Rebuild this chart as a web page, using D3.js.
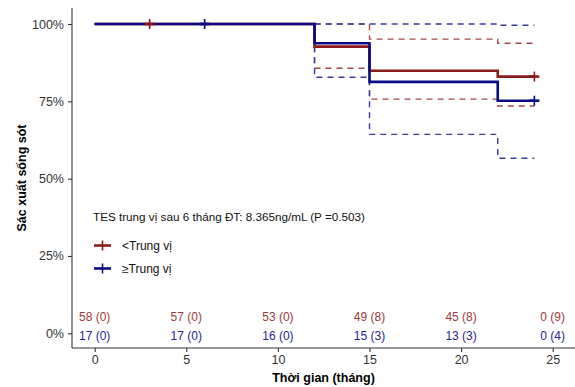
<!DOCTYPE html>
<html>
<head>
<meta charset="utf-8">
<script src="https://cdn.jsdelivr.net/npm/d3@7"></script>
<style>
  body { margin: 0; background: #fff; }
  text { font-family: "Liberation Sans", Arial, sans-serif; }
</style>
</head>
<body>
<div id="chart"></div>
<script>
// Kaplan-Meier steps (time in months, survival in %)
const kmTimes = [0, 12, 15, 22, 24];
const redSurv = [100, 92.7, 84.9, 83.0, 83.0];
const redUpper = [100, 100, 95.1, 93.8, 93.8];
const redLower = [100, 85.7, 75.7, 73.5, 73.5];
const blueSurv = [100, 93.8, 81.3, 75.2, 75.2];
const blueUpper = [100, 100, 100, 99.6, 99.6];
const blueLower = [100, 82.8, 64.3, 56.6, 56.6];

const redCensor = [3, 24];
const blueCensor = [6, 24];

// risk table
const riskTimes = [0, 5, 10, 15, 20, 25];
const redAtRisk = [58, 57, 53, 49, 45, 0];
const redCens = [0, 0, 0, 8, 8, 9];
const blueAtRisk = [17, 17, 16, 15, 13, 0];
const blueCens = [0, 0, 0, 3, 3, 4];

const xTicks = [0, 5, 10, 15, 20, 25];
const yTicks = [0, 25, 50, 75, 100];

const groups = ["<Trung vị", "≥Trung vị"];
const legendTitle = "TES trung vị sau 6 tháng ĐT: 8.365ng/mL (P =0.503)";

const width = 575, height = 387;
const pLeft = 72, pRight = 575, pTop = 8, pBottom = 348;

const svg = d3.select("#chart")
    .append("svg")
    .attr("width", width)
    .attr("height", height);

const x = d3.scaleLinear()
    .domain([0, 25])
    .range([94.7, 552.7]);

const y = d3.scaleLinear()
    .domain([0, 100])
    .range([333.3, 24]);

const red = "#8B1a1a", blue = "#0a0a85";
const redDash = "#a04a4a", blueDash = "#3a3a9c";

const stepLine = d3.line()
    .curve(d3.curveStepAfter)
    .x(d => x(d[0]))
    .y(d => y(d[1]));

const pairs = vals => kmTimes.map((t, i) => [t, vals[i]]);

// confidence bands (dashed)
[[redUpper, redDash], [redLower, redDash], [blueUpper, blueDash], [blueLower, blueDash]].forEach(([vals, col]) => {
    svg.append("path")
        .datum(pairs(vals))
        .attr("fill", "none")
        .attr("stroke", col)
        .attr("stroke-width", 1.4)
        .attr("stroke-dasharray", "6,5")
        .attr("d", stepLine);
});

// survival curves
[[redSurv, red], [blueSurv, blue]].forEach(([vals, col]) => {
    svg.append("path")
        .datum(pairs(vals))
        .attr("fill", "none")
        .attr("stroke", col)
        .attr("stroke-width", 2.6)
        .attr("d", stepLine);
});

// censor marks
const survAt = (vals, t) => {
    let v = vals[0];
    kmTimes.forEach((k, i) => { if (k <= t) v = vals[i]; });
    return v;
};
[[redCensor, redSurv, red], [blueCensor, blueSurv, blue]].forEach(([cs, vals, col]) => {
    cs.forEach(t => {
        const cx = x(t), cy = y(survAt(vals, t));
        svg.append("line")
            .attr("x1", cx).attr("x2", cx)
            .attr("y1", cy - 5).attr("y2", cy + 5)
            .attr("stroke", col).attr("stroke-width", 1.6);
        svg.append("line")
            .attr("x1", cx - 5).attr("x2", cx + 5)
            .attr("y1", cy).attr("y2", cy)
            .attr("stroke", col).attr("stroke-width", 2.6);
    });
});

// risk table text
const riskRows = [
    [redAtRisk, redCens, "#a03a3a", y(0) - 17],
    [blueAtRisk, blueCens, "#26268f", y(0) + 2]
];
riskRows.forEach(([nr, nc, col, ty]) => {
    svg.append("g")
        .selectAll("text")
        .data(riskTimes)
        .join("text")
        .attr("x", d => x(d))
        .attr("y", ty)
        .attr("dy", "0.35em")
        .attr("text-anchor", "middle")
        .attr("font-size", 12)
        .attr("fill", col)
        .text((d, i) => `${nr[i]} (${nc[i]})`);
});

// axes
const axisCol = "#333";
svg.append("line")
    .attr("x1", pLeft).attr("x2", pLeft)
    .attr("y1", pTop).attr("y2", pBottom)
    .attr("stroke", axisCol).attr("stroke-width", 1.1);
svg.append("line")
    .attr("x1", pLeft).attr("x2", pRight)
    .attr("y1", pBottom).attr("y2", pBottom)
    .attr("stroke", axisCol).attr("stroke-width", 1.1);

const xAxis = svg.append("g")
    .attr("transform", `translate(0,${pBottom})`)
    .call(d3.axisBottom(x).tickValues(xTicks).tickSize(4).tickPadding(3));
xAxis.select(".domain").remove();
xAxis.selectAll("line").attr("stroke", axisCol).attr("stroke-width", 1.1);
xAxis.selectAll("text")
    .attr("font-size", 12.5)
    .attr("fill", "#333")
    .style("font-family", "Liberation Sans, Arial, sans-serif");

const yAxis = svg.append("g")
    .attr("transform", `translate(${pLeft},0)`)
    .call(d3.axisLeft(y).tickValues(yTicks).tickFormat(d => d + "%").tickSize(4).tickPadding(4));
yAxis.select(".domain").remove();
yAxis.selectAll("line").attr("stroke", axisCol).attr("stroke-width", 1.1);
yAxis.selectAll("text")
    .attr("font-size", 12.5)
    .attr("fill", "#333")
    .style("font-family", "Liberation Sans, Arial, sans-serif");

// axis titles
svg.append("text")
    .attr("x", (pLeft + pRight) / 2)
    .attr("y", 382)
    .attr("text-anchor", "middle")
    .attr("font-size", 12.5)
    .attr("font-weight", "bold")
    .text("Thời gian (tháng)");

svg.append("text")
    .attr("transform", `translate(26,${(pTop + pBottom) / 2}) rotate(-90)`)
    .attr("text-anchor", "middle")
    .attr("font-size", 12.5)
    .attr("font-weight", "bold")
    .text("Sác xuất sống sót");

// legend
const legend = svg.append("g").attr("transform", "translate(93,0)");
legend.append("text")
    .attr("x", 0).attr("y", 217)
    .attr("dy", "0.35em")
    .attr("font-size", 11.7)
    .attr("fill", "#111")
    .text(legendTitle);

[red, blue].forEach((col, i) => {
    const ly = 245.5 + i * 23;
    legend.append("line")
        .attr("x1", 1).attr("x2", 18)
        .attr("y1", ly).attr("y2", ly)
        .attr("stroke", col).attr("stroke-width", 2.6);
    legend.append("line")
        .attr("x1", 9.5).attr("x2", 9.5)
        .attr("y1", ly - 5).attr("y2", ly + 5)
        .attr("stroke", col).attr("stroke-width", 1.6);
    legend.append("text")
        .attr("x", 29).attr("y", ly)
        .attr("dy", "0.35em")
        .attr("font-size", 12)
        .attr("fill", "#111")
        .text(groups[i]);
});
</script>
</body>
</html>
